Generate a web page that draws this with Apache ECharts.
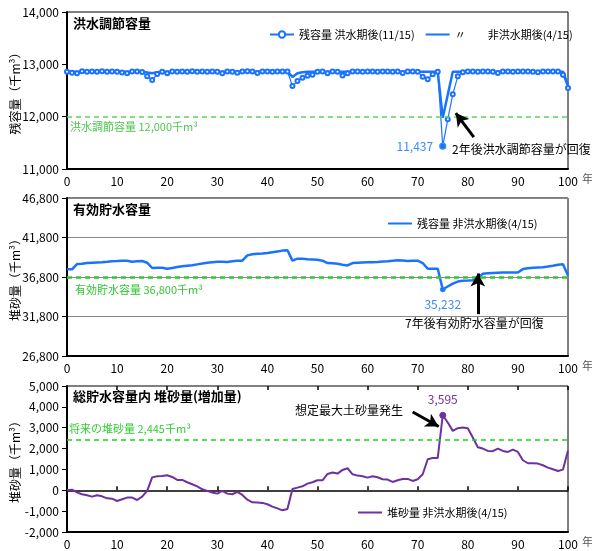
<!DOCTYPE html>
<html>
<head>
<meta charset="utf-8">
<script src="https://cdn.jsdelivr.net/npm/echarts@6/dist/echarts.min.js"></script>
<style>
html,body{margin:0;padding:0;background:#fff;}
#main{width:592px;height:551px;}
</style>
</head>
<body>
<div id="main"></div>
<script>
// 年 (0-100)
var years = [];
for (var i = 0; i <= 100; i++) years.push(i);

// 洪水調節容量 残容量 洪水期後(11/15)
var floodAfterNov = [12860,12840,12830,12870,12860,12865,12860,12870,12860,12865,
	12860,12845,12830,12865,12865,12855,12770,12700,12815,12860,
	12830,12865,12860,12865,12860,12870,12860,12865,12860,12865,
	12860,12830,12865,12860,12840,12865,12870,12865,12835,12865,
	12865,12860,12865,12865,12865,12585,12680,12745,12782,12800,
	12860,12865,12830,12865,12860,12785,12830,12865,12865,12860,
	12865,12865,12860,12865,12865,12860,12865,12835,12865,12865,
	12860,12765,12715,12810,12860,11437,11950,12427,12770,12850,
	12865,12865,12860,12865,12865,12860,12835,12865,12865,12860,
	12865,12865,12865,12860,12850,12865,12865,12865,12865,12800,
	12550];
// 洪水調節容量 残容量 非洪水期後(4/15)
var floodAfterApr = [12860,12860,12860,12860,12860,12860,12860,12860,12860,12860,
	12860,12860,12860,12860,12860,12860,12845,12830,12850,12860,
	12860,12860,12860,12860,12860,12860,12860,12860,12860,12860,
	12860,12860,12860,12860,12860,12860,12860,12860,12860,12860,
	12860,12860,12860,12860,12860,12760,12830,12850,12860,12860,
	12860,12860,12860,12860,12860,12860,12860,12860,12860,12860,
	12860,12860,12860,12860,12860,12860,12860,12860,12860,12860,
	12860,12860,12860,12860,12860,11980,12420,12860,12860,12860,
	12860,12860,12860,12860,12860,12860,12860,12860,12860,12860,
	12860,12860,12860,12860,12860,12860,12860,12860,12860,12860,
	12600];
// 有効貯水容量 残容量 非洪水期後(4/15)
var storageAfterApr = [37770,37770,38440,38480,38560,38610,38650,38680,38720,38780,
	38820,38870,38860,38740,38780,38820,38610,37940,37980,37980,
	37850,37940,38060,38150,38230,38300,38400,38500,38610,38680,
	38740,38720,38700,38780,38860,38870,39540,39670,39750,39780,
	39840,39940,40040,40140,40180,38870,39120,39120,39060,39030,
	38990,38870,38570,38540,38480,38360,38260,38560,38600,38630,
	38660,38680,38700,38750,38800,38860,38910,38880,38830,38860,
	38870,38570,37850,37850,37850,35232,35600,35970,36220,36330,
	36350,36380,36700,37200,37260,37300,37340,37370,37360,37370,
	37380,37800,37900,37960,38000,38030,38120,38220,38350,38410,
	36990];
// 総貯水容量内 堆砂量 非洪水期後(4/15)
var sediment = [0,30,-100,-190,-240,-305,-240,-290,-385,-400,
	-513,-430,-350,-350,-465,-305,-30,620,670,690,
	720,640,495,495,384,290,190,48,-30,-110,
	-160,-30,-160,-190,-80,-225,-450,-575,-590,-605,
	-670,-785,-865,-960,-895,60,128,190,320,384,
	480,480,784,850,800,976,1056,768,704,672,
	608,672,624,528,512,400,480,544,544,448,
	528,768,1488,1552,1552,3595,3248,2848,2976,3008,
	2976,2528,2064,2000,1888,1872,2000,1888,1840,1952,
	1840,1440,1296,1296,1280,1200,1088,1008,928,992,
	1904];

var floodLimit = 12000;
var storageLimit = 36800;
var sedimentLimit = 2445;

var blue = '#1a73ff';
var purple = '#7030a0';
var font = '"Noto Sans CJK JP", sans-serif';

function pairs(values) {
	var a = [];
	for (var i = 0; i < values.length; i++) a.push([years[i], values[i]]);
	return a;
}
function fmt(v) {
	return v.toLocaleString('en-US');
}
// 指定した年の点にラベルを付ける
function markAt(data, year, color, pos, size) {
	var v = data[year][1];
	data[year] = {
		value: [year, v],
		symbol: size ? 'circle' : 'none',
		symbolSize: size || 0,
		itemStyle: {color: color, borderColor: color},
		label: {show: true, formatter: fmt(v), position: pos, color: color, fontSize: 12, fontFamily: font, distance: 6}
	};
	return data;
}
function arrow(from, to) {
	return [
		{coord: from, symbol: 'none', lineStyle: {color: '#000', width: 3, type: 'solid', opacity: 1}},
		{coord: to, symbol: 'arrow', symbolSize: [11, 13]}
	];
}
function limitMark(v, color, width, a) {
	var style = {color: color, width: width, type: [5, 4], opacity: 1};
	return {
		silent: true, symbol: 'none', label: {show: false},
		lineStyle: style,
		data: [{yAxis: v, lineStyle: style}, a]
	};
}

var grids = [
	{left: 67, right: 24, top: 12, height: 157},
	{left: 67, right: 24, top: 198, height: 158},
	{left: 67, right: 24, top: 386, height: 146}
];
grids.forEach(function (g) {
	g.show = true;
	g.borderColor = '#000';
	g.borderWidth = 1;
	g.containLabel = false;
	g.outerBoundsMode = 'none';
});

function xAxisFor(gi) {
	return {
		type: 'value', gridIndex: gi, min: 0, max: 100, interval: 10,
		name: '年', nameLocation: 'end', nameGap: 8,
		nameTextStyle: {color: '#555', fontSize: 11, fontFamily: font, verticalAlign: 'top', padding: [4, 0, 0, 0]},
		axisLine: {onZero: false, lineStyle: {color: '#000', width: 2}},
		axisTick: {show: false},
		axisLabel: {color: '#000', fontSize: 12, fontFamily: font, margin: 6},
		splitLine: {show: false}
	};
}
function yAxisFor(gi, min, max, interval, name, split) {
	return {
		type: 'value', gridIndex: gi, min: min, max: max, interval: interval,
		name: name, nameLocation: 'middle', nameGap: 46, nameRotate: 90, nameMoveOverlap: false,
		nameTextStyle: {color: '#000', fontSize: 12, fontFamily: font},
		axisLine: {show: true, lineStyle: {color: '#000', width: 2}},
		axisTick: {show: true, length: 5, lineStyle: {color: '#000'}},
		axisLabel: {color: '#000', fontSize: 12, fontFamily: font, margin: 8, formatter: fmt},
		splitLine: {show: split, lineStyle: {color: '#888', width: 1}}
	};
}

var zeroUp = {
	type: 'value', gridIndex: 2, min: 0, max: 100, interval: 10, position: 'top',
	axisLine: {onZero: true, lineStyle: {color: '#000', width: 1.5}},
	axisTick: {show: true, length: 4, inside: false, lineStyle: {color: '#000', width: 1.5}},
	axisLabel: {show: false}, splitLine: {show: false}
};
var zeroDown = {
	type: 'value', gridIndex: 2, min: 0, max: 100, interval: 10, position: 'top',
	axisLine: {onZero: true, show: false},
	axisTick: {show: true, length: 4, inside: true, lineStyle: {color: '#000', width: 1.5}},
	axisLabel: {show: false}, splitLine: {show: false}
};

var floodNovData = markAt(pairs(floodAfterNov), 75, '#3d8bff', 'left', 6);
var storageData = markAt(pairs(storageAfterApr), 75, '#3d8bff', 'bottom', 5);
var sedimentData = markAt(markAt(pairs(sediment), 75, purple, 'top', 6), 100, purple, 'left', 0);
floodNovData[75].itemStyle.color = blue;
storageData[75].itemStyle.color = blue;

var legendText = {color: '#000', fontSize: 11, fontFamily: font};
var noDot = {opacity: 0};

var option = {
	backgroundColor: '#fff',
	animation: false,
	grid: grids,
	title: [
		{text: '洪水調節容量', left: 73, top: 17},
		{text: '有効貯水容量', left: 73, top: 203},
		{text: '総貯水容量内 堆砂量(増加量)', left: 73, top: 390}
	].map(function (t) {
		t.padding = 0;
		t.textStyle = {color: '#000', fontSize: 13, fontWeight: 'bold', fontFamily: font};
		return t;
	}),
	legend: [
		{data: ['残容量 洪水期後(11/15)', {name: '〃　　非洪水期後(4/15)', itemStyle: noDot}], left: 264, top: 24, itemWidth: 24, itemHeight: 8, itemGap: 10, textStyle: legendText},
		{data: [{name: '残容量 非洪水期後(4/15)', itemStyle: noDot}], left: 382, top: 213, itemWidth: 24, itemHeight: 8, textStyle: legendText},
		{data: [{name: '堆砂量 非洪水期後(4/15)', itemStyle: noDot}], left: 352, top: 502, itemWidth: 24, itemHeight: 8, textStyle: legendText}
	],
	xAxis: [xAxisFor(0), xAxisFor(1), xAxisFor(2), zeroUp, zeroDown],
	yAxis: [
		yAxisFor(0, 11000, 14000, 1000, '残容量（千m³）', false),
		yAxisFor(1, 26800, 46800, 5000, '堆砂量（千m³）', true),
		yAxisFor(2, -2000, 5000, 1000, '堆砂量（千m³）', false)
	],
	series: [
		{
			name: '〃　　非洪水期後(4/15)', type: 'line', xAxisIndex: 0, yAxisIndex: 0,
			data: pairs(floodAfterApr), showSymbol: false, symbol: 'none',
			lineStyle: {color: blue, width: 2.5}, itemStyle: {color: blue}, z: 2
		},
		{
			name: '残容量 洪水期後(11/15)', type: 'line', xAxisIndex: 0, yAxisIndex: 0,
			data: floodNovData, symbol: 'emptyCircle', symbolSize: 4,
			lineStyle: {color: blue, width: 1.2}, itemStyle: {color: blue, borderWidth: 1.2}, z: 3,
			markLine: limitMark(floodLimit, '#5cd65c', 1.5, arrow([81.2, 11610], [77.6, 12069]))
		},
		{
			name: '残容量 非洪水期後(4/15)', type: 'line', xAxisIndex: 1, yAxisIndex: 1,
			data: storageData, symbol: 'none', showSymbol: true,
			lineStyle: {color: blue, width: 2.5}, itemStyle: {color: blue},
			markLine: limitMark(storageLimit, '#33c433', 2.5, arrow([82, 32100], [82, 37250]))
		},
		{
			name: '堆砂量 非洪水期後(4/15)', type: 'line', xAxisIndex: 2, yAxisIndex: 2,
			data: sedimentData, symbol: 'none', showSymbol: true,
			lineStyle: {color: purple, width: 2}, itemStyle: {color: purple},
			markLine: limitMark(sedimentLimit, '#19d419', 1.5, arrow([69, 3753], [74.2, 3060]))
		}
	],
	graphic: [
		{type: 'text', x: 70, y: 127, style: {text: '洪水調節容量 12,000千m³', fill: '#4cc84c', font: '11px ' + font, textVerticalAlign: 'middle'}},
		{type: 'text', x: 75, y: 290, style: {text: '有効貯水容量 36,800千m³', fill: '#33c433', font: '11px ' + font, textVerticalAlign: 'middle'}},
		{type: 'text', x: 69, y: 429, style: {text: '将来の堆砂量 2,445千m³', fill: '#33cc33', font: '11px ' + font, textVerticalAlign: 'middle'}},
		{type: 'text', x: 452, y: 149, style: {text: '2年後洪水調節容量が回復', fill: '#000', font: '12px ' + font, textVerticalAlign: 'middle'}},
		{type: 'text', x: 405, y: 323, style: {text: '7年後有効貯水容量が回復', fill: '#000', font: '12px ' + font, textVerticalAlign: 'middle'}},
		{type: 'text', x: 295, y: 410, style: {text: '想定最大土砂量発生', fill: '#000', font: '12px ' + font, textVerticalAlign: 'middle'}}
	]
};

var myChart = echarts.init(document.getElementById('main'));
myChart.setOption(option);
</script>
</body>
</html>
